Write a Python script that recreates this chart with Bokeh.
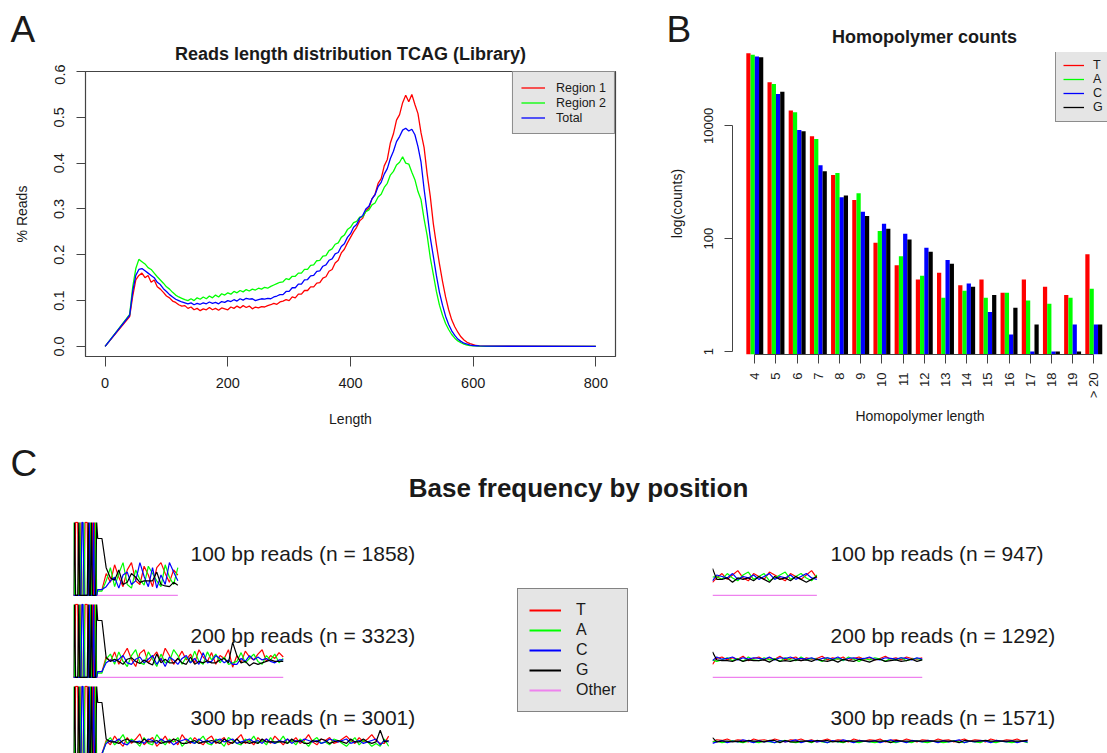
import math
from bokeh.plotting import figure
from bokeh.models import (Range1d, Label, Legend, LegendItem, FixedTicker,
                          NumeralTickFormatter, BasicTickFormatter)
from bokeh.layouts import row, column, Spacer
from bokeh.embed import file_html
from bokeh.resources import INLINE

FONT = "Liberation Sans"
RED, GREEN, BLUE, BLACK, PINK = "#FF0000", "#00FF00", "#0000FF", "#000000", "#EE82EE"
TXT = "#1a1a1a"
AXC = "#444444"
NAN = float("nan")

# ---------------- Panel A data: read length distribution ----------------
length_bp = [0] + list(range(40, 615, 5)) + [620, 800]
region1_pct = [0.0,
    .065, .110, .145, .155, .160, .150, .155, .140, .145, .130,
    .125, .118, .110, .106, .099, .096, .091, .088, .089, .083,
    .086, .080, .083, .078, .082, .080, .085, .080, .083, .079,
    .084, .082, .080, .086, .083, .088, .084, .089, .085, .088,
    .082, .086, .084, .087, .086, .089, .091, .094, .092, .097,
    .099, .102, .100, .108, .106, .114, .114, .122, .122, .130,
    .130, .138, .139, .149, .152, .164, .168, .182, .188, .204,
    .212, .226, .238, .250, .260, .274, .280, .296, .302, .322,
    .332, .356, .366, .394, .408, .444, .464, .494, .506, .532,
    .548, .534, .550, .528, .508, .466, .434, .376, .328, .268,
    .222, .180, .142, .108, .080, .058, .043, .031, .021, .014,
    .009, .006, .004, .002, .001,
    .0005, 0.0]
region2_pct = [0.0,
    .070, .130, .170, .190, .185, .180, .172, .168, .160, .152,
    .145, .138, .130, .125, .118, .112, .108, .105, .102, .100,
    .104, .100, .106, .103, .108, .104, .110, .106, .112, .108,
    .115, .112, .117, .114, .120, .117, .122, .119, .124, .121,
    .125, .123, .127, .125, .129, .127, .131, .134, .137, .140,
    .141, .148, .146, .153, .153, .160, .160, .168, .168, .177,
    .178, .187, .188, .197, .198, .209, .213, .223, .226, .238,
    .243, .255, .260, .270, .273, .282, .283, .294, .298, .309,
    .313, .326, .332, .347, .356, .374, .382, .396, .402, .414,
    .400, .398, .380, .364, .338, .320, .278, .242, .194, .157,
    .120, .090, .068, .050, .037, .026, .018, .012, .008, .005,
    .003, .002, .0015, .001, .0005,
    .0003, 0.0]
total_pct = [0.0,
    .068, .120, .155, .168, .170, .165, .160, .155, .150, .140,
    .135, .126, .120, .113, .108, .103, .100, .097, .095, .093,
    .095, .091, .094, .092, .095, .093, .097, .094, .096, .093,
    .098, .096, .100, .098, .102, .099, .104, .101, .105, .103,
    .104, .100, .102, .104, .103, .105, .104, .108, .110, .113,
    .113, .120, .120, .128, .128, .136, .136, .145, .146, .154,
    .155, .164, .165, .175, .178, .188, .191, .202, .205, .218,
    .224, .238, .246, .260, .266, .280, .286, .300, .306, .322,
    .331, .349, .358, .376, .388, .410, .426, .447, .458, .472,
    .476, .470, .474, .462, .436, .402, .343, .292, .238, .197,
    .155, .118, .090, .066, .048, .034, .024, .016, .011, .007,
    .005, .003, .002, .0015, .001,
    .0005, 0.0]
a_series = ["Region 1", "Region 2", "Total"]
a_x_ticks = [0, 200, 400, 600, 800]
a_y_ticks = [0.0, 0.1, 0.2, 0.3, 0.4, 0.5, 0.6]

# ---------------- Panel B data: homopolymer counts ----------------
hp_lengths = ["4", "5", "6", "7", "8", "9", "10", "11", "12", "13", "14",
              "15", "16", "17", "18", "19", "> 20"]
hp_T = [193700, 59300, 18700, 6550, 1350, 488, 85, 34, 19, 25, 15, 19, 11, 19, 14, 10, 53]
hp_A = [182000, 55600, 17400, 5890, 1470, 638, 137, 49, 22, 9, 12, 9, 11, 8, 7, 9, 13]
hp_C = [170000, 36900, 8490, 2000, 542, 301, 184, 123, 69, 42, 16, 5, 2, 1, 1, 3, 3]
hp_G = [165000, 40500, 8020, 1565, 581, 252, 150, 97, 59, 36, 14, 10, 6, 3, 1, 1, 3]
b_y_ticks = [1, 100, 10000]
bases = ["T", "A", "C", "G"]

# ---------------- Panel C data: base frequency by position (%) ----------------
read_lengths = [100, 200, 300]
left_n = [1858, 3323, 3001]
right_n = [947, 1292, 1571]
lead_bases = "AGTTTGATCCATTTGCAGTCTAG"   # positions 1-23, identical in every read

left_pct = {
    100: {
        "T": [8, 8, 30, 18, 42, 25, 12, 35, 45, 20, 15, 40, 28, 12, 38, 45, 30, 18, 35, 28],
        "A": [6, 6, 20, 38, 12, 30, 45, 15, 10, 35, 22, 14, 40, 30, 20, 12, 42, 25, 15, 38],
        "C": [8, 8, 12, 20, 25, 10, 28, 32, 15, 20, 45, 26, 12, 38, 10, 28, 15, 45, 32, 20],
        "G": [78, 78, 38, 24, 21, 35, 15, 18, 30, 25, 18, 20, 20, 20, 32, 15, 13, 12, 18, 14],
    },
    200: {
        "T": [8, 8, 28, 22, 35, 18, 30, 40, 25, 15, 33, 38, 20, 28, 35, 22, 40, 30, 18, 26,
              36, 24, 32, 20, 38, 28, 22, 34, 18, 30, 26, 38, 14, 30, 20, 36, 28, 24, 32, 38,
              22, 30, 26, 34, 28],
        "A": [6, 6, 25, 32, 18, 35, 22, 15, 30, 38, 20, 18, 35, 25, 15, 32, 20, 22, 38, 30,
              18, 28, 20, 36, 22, 18, 35, 24, 32, 20, 28, 18, 20, 22, 34, 20, 26, 32, 22, 18,
              30, 24, 32, 20, 26],
        "C": [8, 8, 20, 24, 22, 25, 30, 20, 18, 25, 28, 20, 25, 30, 18, 26, 15, 28, 24, 18,
              26, 30, 20, 26, 18, 34, 20, 22, 30, 26, 20, 24, 18, 18, 26, 22, 30, 24, 28, 24,
              26, 22, 20, 24, 24],
        "G": [78, 78, 27, 22, 25, 22, 18, 25, 27, 22, 19, 24, 20, 17, 32, 20, 25, 20, 20, 26,
              20, 18, 28, 18, 22, 20, 23, 20, 20, 24, 26, 20, 48, 30, 20, 22, 16, 20, 18, 20,
              22, 24, 22, 22, 22],
    },
    300: {
        "T": [8, 8, 26, 20, 32, 24, 18, 30, 22, 28, 35, 20, 26, 30, 18, 24, 32, 22, 28, 20,
              34, 26, 22, 30, 24, 20, 28, 32, 22, 26, 30, 20, 24, 28, 34, 22, 26, 20, 30, 24,
              28, 22, 32, 26, 20, 28, 24, 30, 22, 26, 34, 24, 20, 28, 26, 30, 22, 24, 28, 32,
              26, 22, 30, 24, 28, 34, 26, 22, 22, 32],
        "A": [6, 6, 24, 30, 20, 26, 34, 22, 28, 24, 18, 30, 22, 20, 34, 26, 20, 28, 24, 30,
              18, 24, 30, 22, 26, 32, 22, 20, 28, 24, 18, 30, 26, 22, 20, 28, 24, 32, 22, 26,
              20, 30, 22, 24, 32, 22, 26, 20, 28, 24, 18, 26, 30, 22, 24, 20, 28, 26, 22, 18,
              24, 30, 20, 26, 24, 18, 22, 18, 28, 18],
        "C": [8, 8, 22, 26, 24, 28, 22, 20, 26, 24, 25, 22, 28, 26, 22, 28, 24, 26, 20, 24,
              26, 28, 24, 22, 28, 24, 26, 22, 26, 28, 24, 26, 28, 22, 24, 26, 28, 24, 26, 22,
              28, 24, 22, 26, 24, 28, 22, 26, 24, 28, 26, 24, 26, 22, 24, 28, 26, 24, 26, 28,
              22, 24, 26, 22, 24, 26, 28, 20, 26, 24],
        "G": [78, 78, 28, 24, 24, 22, 26, 28, 24, 24, 22, 28, 24, 24, 26, 22, 24, 24, 28, 26,
              22, 22, 24, 26, 22, 24, 24, 26, 24, 22, 28, 24, 22, 28, 22, 24, 22, 24, 22, 28,
              24, 24, 24, 24, 24, 22, 28, 24, 26, 22, 22, 26, 24, 28, 26, 22, 24, 26, 24, 22,
              28, 24, 24, 28, 24, 22, 24, 40, 24, 26],
    },
}

right_pct = {
    100: {
        "T": [18, 24, 30, 22, 28, 34, 24, 20, 30, 26, 22, 32, 28, 24, 20, 30, 26, 22, 28, 34, 24],
        "A": [25, 26, 22, 30, 24, 20, 28, 32, 22, 26, 30, 20, 24, 28, 32, 22, 26, 30, 24, 20, 28],
        "C": [20, 28, 26, 24, 30, 22, 26, 24, 28, 22, 26, 30, 22, 26, 24, 28, 22, 26, 30, 24, 22],
        "G": [37, 22, 22, 24, 18, 24, 22, 24, 20, 26, 22, 18, 26, 22, 24, 20, 26, 22, 18, 22, 26],
    },
    200: {
        "T": [18, 26, 28, 24, 27, 25, 29, 23, 26, 28, 24, 27, 25, 29, 24, 26, 28, 23, 27, 25,
              26, 29, 24, 27, 25, 28, 23, 26, 28, 25, 27, 24, 26, 29, 25, 27, 24, 28, 26, 25, 27],
        "A": [24, 22, 24, 27, 23, 26, 22, 28, 24, 23, 27, 24, 26, 22, 27, 24, 23, 28, 24, 26,
              25, 22, 27, 24, 26, 23, 28, 25, 22, 26, 24, 27, 25, 22, 26, 24, 27, 23, 25, 26, 24],
        "C": [23, 28, 25, 26, 28, 24, 27, 25, 27, 26, 25, 28, 24, 27, 26, 28, 25, 26, 25, 27,
              24, 26, 27, 25, 28, 24, 26, 27, 25, 26, 28, 25, 24, 27, 26, 25, 27, 26, 24, 27, 25],
        "G": [35, 24, 23, 23, 22, 25, 22, 24, 23, 23, 24, 21, 25, 22, 23, 22, 24, 23, 24, 22,
              25, 23, 22, 24, 21, 25, 23, 22, 25, 23, 21, 24, 25, 22, 23, 24, 22, 23, 25, 22, 24],
    },
    300: {
        "T": [24, 27, 26, 28, 25, 27, 26, 24, 28, 26, 27, 25, 28, 26, 24, 27, 26, 28, 25, 27,
              24, 26, 28, 25, 27, 26, 24, 28, 26, 25, 27, 26, 28, 24, 26, 27, 25, 28, 26, 24,
              27, 26, 25, 28, 26, 27, 24, 26, 28, 25, 27, 26, 24, 28, 26, 25, 27, 26, 28, 25, 27],
        "A": [24, 25, 23, 24, 26, 24, 23, 25, 24, 23, 25, 24, 23, 25, 26, 24, 23, 24, 25, 23,
              26, 24, 23, 25, 24, 23, 26, 24, 23, 25, 24, 23, 24, 26, 24, 23, 25, 24, 23, 26,
              24, 23, 25, 24, 23, 24, 26, 24, 23, 25, 24, 23, 26, 24, 23, 25, 24, 23, 24, 25, 23],
        "C": [22, 24, 26, 23, 25, 24, 27, 25, 23, 26, 24, 25, 23, 26, 24, 25, 27, 23, 25, 26,
              24, 25, 23, 26, 24, 27, 25, 23, 26, 25, 24, 26, 23, 25, 27, 24, 25, 23, 26, 25,
              24, 26, 25, 23, 26, 24, 25, 27, 23, 25, 24, 26, 25, 23, 26, 25, 24, 26, 23, 25, 24],
        "G": [30, 24, 25, 25, 24, 25, 24, 26, 25, 25, 24, 26, 26, 23, 26, 24, 24, 25, 25, 24,
              26, 25, 26, 24, 25, 24, 25, 25, 25, 25, 25, 25, 25, 25, 23, 26, 25, 25, 25, 25,
              25, 25, 25, 25, 25, 25, 25, 23, 26, 25, 25, 25, 26, 25, 25, 25, 25, 25, 25, 25, 26],
    },
}
other_pct = [0, 0]   # "Other" stays at zero from first to last position
base_colors = {"T": RED, "A": GREEN, "C": BLUE, "G": BLACK}


def style_axis(ax, label_size, tick_out, standoff, label_standoff):
    ax.major_label_text_font = FONT
    ax.major_label_text_font_size = label_size
    ax.major_label_text_color = TXT
    ax.axis_label_text_font = FONT
    ax.axis_label_text_font_size = "14px"
    ax.axis_label_text_font_style = "normal"
    ax.axis_label_text_color = TXT
    ax.major_tick_out = tick_out
    ax.major_tick_in = 0
    ax.minor_tick_out = 0
    ax.minor_tick_in = 0
    ax.axis_line_color = AXC
    ax.major_tick_line_color = AXC
    ax.major_label_standoff = standoff
    ax.axis_label_standoff = label_standoff


def blank(width, height, xr=None, yr=None):
    """A figure without axes whose frame fills it (pixel-sized ranges by default)."""
    p = figure(width=width, height=height,
               x_range=xr if xr is not None else Range1d(0, width),
               y_range=yr if yr is not None else Range1d(0, height),
               x_axis_location=None, y_axis_location=None, toolbar_location=None,
               output_backend="svg", title=None, min_border_left=0, min_border_right=0,
               min_border_top=0, min_border_bottom=0)
    p.grid.visible = False
    p.outline_line_color = None
    return p


def text_label(x, y, text, size, bold=False, align="left"):
    return Label(x=x, y=y, text=text, text_font=FONT, text_font_size=size,
                 text_font_style="bold" if bold else "normal", text_color=TXT,
                 text_align=align, text_baseline="middle")


# ================= Panel A =================
A_W = 640
stripA = blank(A_W, 64)
stripA.add_layout(text_label(10, 35.5, "A", "37px"))
stripA.add_layout(text_label(350, 11, "Reads length distribution TCAG (Library)", "18px",
                             bold=True, align="center"))

pA = figure(width=A_W, height=376, x_range=Range1d(-32, 832), y_range=Range1d(-0.022, 0.6),
            toolbar_location=None, output_backend="svg", title=None,
            min_border_left=85, min_border_right=25, min_border_top=7, min_border_bottom=84)
pA.grid.visible = False
pA.outline_line_color = AXC
pA.outline_line_width = 1.2
for name, vals, col in zip(a_series, [region1_pct, region2_pct, total_pct], [RED, GREEN, BLUE]):
    pA.line(length_bp, vals, line_color=col, line_width=1.3, legend_label=name)
pA.xaxis.ticker = FixedTicker(ticks=a_x_ticks)
pA.yaxis.ticker = FixedTicker(ticks=a_y_ticks)
pA.yaxis.formatter = NumeralTickFormatter(format="0.0")
pA.xaxis.axis_label = "Length"
pA.yaxis.axis_label = "% Reads"
style_axis(pA.xaxis[0], "14.5px", 10, 11, 20)
style_axis(pA.yaxis[0], "14.5px", 9, 12, 22)
pA.yaxis.major_label_orientation = "parallel"
legA = pA.legend[0]
legA.location = "top_right"
legA.margin = 0
legA.padding = 8
legA.spacing = 0
legA.label_text_font = FONT
legA.label_text_font_size = "12.5px"
legA.label_text_color = TXT
legA.label_height = 15
legA.glyph_height = 15
legA.glyph_width = 24
legA.label_standoff = 11
legA.background_fill_color = "#E5E5E5"
legA.background_fill_alpha = 1
legA.border_line_color = "#333333"
legA.border_line_width = 1

# ================= Panel B =================
B_W = 467
STRIP_B_H = 52
stripB = blank(B_W, STRIP_B_H)
stripB.add_layout(text_label(26, STRIP_B_H - 28.5, "B", "37px"))
stripB.add_layout(text_label(284, STRIP_B_H - 36, "Homopolymer counts", "18px", bold=True,
                             align="center"))

pB = figure(width=B_W, height=440 - STRIP_B_H, x_range=Range1d(-1.052, 16.647),
            y_range=Range1d(10 ** -0.053, 10 ** 5.302), y_axis_type="log",
            toolbar_location=None, output_backend="svg", title=None,
            min_border_left=92, min_border_right=0, min_border_top=0, min_border_bottom=86)
pB.grid.visible = False
pB.outline_line_color = None
group_idx = list(range(len(hp_lengths)))
bar_offsets = [-0.3, -0.1, 0.1, 0.3]
for vals, b, off in zip([hp_T, hp_A, hp_C, hp_G], bases, bar_offsets):
    pB.vbar(x=[i + off for i in group_idx], top=vals, bottom=pB.y_range.start, width=0.2,
            fill_color=base_colors[b], line_color=None)
pB.xaxis.ticker = FixedTicker(ticks=group_idx)
pB.xaxis.major_label_overrides = {i: lab for i, lab in zip(group_idx, hp_lengths)}
pB.xaxis.bounds = (group_idx[0], group_idx[-1])
pB.yaxis.ticker = FixedTicker(ticks=b_y_ticks)
pB.yaxis.formatter = BasicTickFormatter()
pB.yaxis.bounds = (b_y_ticks[0], b_y_ticks[-1])
pB.xaxis.axis_label = "Homopolymer length"
pB.yaxis.axis_label = "log(counts)"
style_axis(pB.xaxis[0], "13px", 9, 9, 7)
style_axis(pB.yaxis[0], "13px", 8, 11, 17)
pB.xaxis.major_label_orientation = math.pi / 2
pB.yaxis.major_label_orientation = "parallel"
itemsB = []
for b in bases:
    r = pB.line(x=[0], y=[NAN], line_color=base_colors[b], line_width=1.3)
    itemsB.append(LegendItem(label=b, renderers=[r]))
legB = Legend(items=itemsB, location=(323, 232), margin=0, padding=7, spacing=0,
              label_text_font=FONT, label_text_font_size="12.5px", label_text_color=TXT,
              label_height=14, glyph_height=14, glyph_width=21, label_standoff=9,
              background_fill_color="#E5E5E5", background_fill_alpha=1,
              border_line_color="#333333", border_line_width=1)
pB.add_layout(legB)

# ================= Panel C header =================
pH = blank(1107, 81)
pH.add_layout(text_label(10, 58, "C", "37px"))
pH.add_layout(text_label(578, 34, "Base frequency by position", "26px", bold=True,
                         align="center"))

# ================= Panel C mini plots =================
PX_PER_POS = 1.054
PX_PER_PCT = 0.73
Y_TOP = 101.3
row_heights = [82, 82, 68]
LABEL_Y = 57


def mini(width, height, label_pos, text):
    p = blank(width, height, Range1d(1, 1 + width / PX_PER_POS),
              Range1d(Y_TOP - height / PX_PER_PCT, Y_TOP))
    p.add_layout(text_label(label_pos, LABEL_Y, text, "21px"))
    return p


left_figs = []
for L, n, h in zip(read_lengths, left_n, row_heights):
    p = mini(439, h, 112, f"{L} bp reads (n = {n})")
    pos = list(range(1, len(lead_bases) + 1)) + list(range(len(lead_bases) + 1, L + 1, 4))
    p.line([1, L], other_pct, line_color=PINK, line_width=1.3)
    for b in bases:
        vals = [100 if s == b else 0 for s in lead_bases] + left_pct[L][b]
        p.line(pos, vals, line_color=base_colors[b], line_width=1.2)
    left_figs.append(p)

right_figs = []
for L, n, h in zip(read_lengths, right_n, row_heights):
    p = mini(395, h, 113, f"{L} bp reads (n = {n})")
    pos = [1] + list(range(5, L + 1, 5))
    p.line([1, L], other_pct, line_color=PINK, line_width=1.3)
    for b in bases:
        p.line(pos, right_pct[L][b], line_color=base_colors[b], line_width=1.2)
    right_figs.append(p)

# legend column for panel C
pL = blank(200, sum(row_heights), Range1d(0, 1), Range1d(0, 1))
itemsC = []
for name, col in zip(bases + ["Other"], [RED, GREEN, BLUE, BLACK, PINK]):
    r = pL.line(x=[0], y=[NAN], line_color=col, line_width=2)
    itemsC.append(LegendItem(label=name, renderers=[r]))
legC = Legend(items=itemsC, location=(5, 41), margin=0, padding=11, spacing=0,
              label_text_font=FONT, label_text_font_size="16px", label_text_color=TXT,
              label_height=20, glyph_height=16, glyph_width=32, label_standoff=15,
              background_fill_color="#E5E5E5", background_fill_alpha=1,
              border_line_color="#222222", border_line_width=1.3)
pL.add_layout(legC)

# strips are wrapped in their own rows so their frames are not aligned with the plots below
top = row(column(row(stripA), pA), column(row(stripB), pB))
body = row(Spacer(width=73, height=sum(row_heights)), column(*left_figs), pL, column(*right_figs))
layout = column(top, pH, body)

open("out.html", "w").write(file_html(layout, INLINE))
